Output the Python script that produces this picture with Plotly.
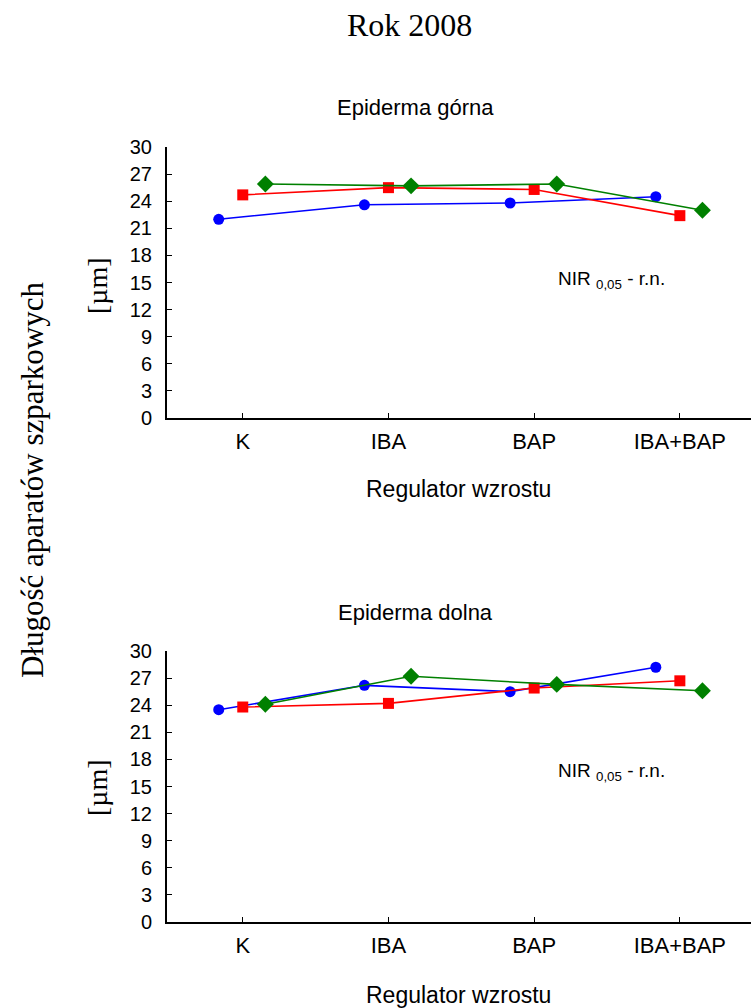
import plotly.graph_objects as go

# Treatments (growth regulators) on the x axis
regulators = ["K", "IBA", "BAP", "IBA+BAP"]
y_ticks = [0, 3, 6, 9, 12, 15, 18, 21, 24, 27, 30]

# Stomatal length [µm], upper epidermis, three series
upper_blue = [22.0, 23.6, 23.8, 24.5]
upper_red = [24.7, 25.5, 25.3, 22.4]
upper_green = [25.9, 25.7, 25.9, 23.0]

# Stomatal length [µm], lower epidermis, three series
lower_blue = [23.5, 26.2, 25.5, 28.2]
lower_red = [23.8, 24.2, 25.9, 26.7]
lower_green = [24.1, 27.2, 26.3, 25.6]

W, H = 751, 1008
LEFT = 167
SANS = "Liberation Sans, Arial, sans-serif"
SERIF = "Liberation Serif, Times New Roman, serif"

# small horizontal shifts so the three series do not overlap
offsets = {"blue": -0.165, "red": 0.0, "green": 0.155}
styles = {
    "blue": dict(color="#0000ff", symbol="circle", size=11),
    "red": dict(color="#ff0000", symbol="square", size=11),
    "green": dict(color="#008000", symbol="diamond", size=13),
}


def px_x(px):
    return (px - LEFT) / (W - LEFT)


def px_y(py):
    return 1 - py / H


fig = go.Figure()

panels = [
    ("", "y", (upper_blue, upper_red, upper_green)),
    ("2", "y2", (lower_blue, lower_red, lower_green)),
]
for suffix, yref, series in panels:
    for name, vals in zip(["blue", "red", "green"], series):
        st = styles[name]
        fig.add_trace(go.Scatter(
            x=[i + offsets[name] for i in range(len(regulators))],
            y=vals,
            mode="lines+markers",
            line=dict(color=st["color"], width=1.6),
            marker=dict(color=st["color"], symbol=st["symbol"], size=st["size"]),
            xaxis="x" + suffix,
            yaxis=yref,
            showlegend=False,
        ))

x_range = [-0.52, -0.52 + (W - LEFT) / 145.7]
xaxis_common = dict(
    range=x_range,
    tickmode="array",
    tickvals=list(range(len(regulators))),
    ticktext=regulators,
    ticks="inside",
    ticklen=5,
    tickwidth=1.2,
    tickcolor="black",
    showline=True,
    linecolor="black",
    linewidth=2,
    showgrid=False,
    zeroline=False,
    automargin=False,
    tickfont=dict(family=SANS, size=22, color="black"),
    ticklabelstandoff=3,
    domain=[0, 1],
)
yaxis_common = dict(
    range=[0, 30],
    tickmode="array",
    tickvals=y_ticks,
    ticks="inside",
    ticklen=5,
    tickwidth=1.2,
    tickcolor="black",
    showline=True,
    linecolor="black",
    linewidth=2,
    showgrid=False,
    zeroline=False,
    automargin=False,
    tickfont=dict(family=SANS, size=20, color="black"),
    ticklabelstandoff=9,
)

fig.update_layout(
    width=W,
    height=H,
    margin=dict(l=LEFT, r=0, t=0, b=0, pad=0, autoexpand=False),
    paper_bgcolor="white",
    plot_bgcolor="white",
    xaxis=dict(xaxis_common, anchor="y"),
    yaxis=dict(yaxis_common, domain=[px_y(418), px_y(147)], anchor="x"),
    xaxis2=dict(xaxis_common, anchor="y2"),
    yaxis2=dict(yaxis_common, domain=[px_y(922), px_y(651)], anchor="x2"),
)

annotations = [
    dict(text="Rok 2008", x=px_x(409), y=px_y(25), font=dict(family=SERIF, size=32)),
    dict(text="Epiderma górna", x=px_x(415), y=px_y(108), font=dict(family=SANS, size=22)),
    dict(text="Epiderma dolna", x=px_x(415), y=px_y(612), font=dict(family=SANS, size=22)),
    dict(text="Regulator wzrostu", x=px_x(458), y=px_y(489), font=dict(family=SANS, size=23)),
    dict(text="Regulator wzrostu", x=px_x(458), y=px_y(995), font=dict(family=SANS, size=23)),
    dict(text="NIR <sub>0,05</sub> - r.n.", x=px_x(611), y=px_y(280), font=dict(family=SANS, size=19)),
    dict(text="NIR <sub>0,05</sub> - r.n.", x=px_x(611), y=px_y(772), font=dict(family=SANS, size=19)),
    dict(text="[µm]", x=px_x(97), y=px_y(286), textangle=-90, font=dict(family=SERIF, size=28)),
    dict(text="[µm]", x=px_x(97), y=px_y(788), textangle=-90, font=dict(family=SERIF, size=28)),
    dict(text="Długość aparatów szparkowych", x=px_x(32), y=px_y(480), textangle=-90,
         font=dict(family=SERIF, size=31)),
]
for a in annotations:
    a["font"]["color"] = "black"
    fig.add_annotation(xref="paper", yref="paper", showarrow=False,
                       xanchor="center", yanchor="middle", **a)

fig.write_html("out.html")
